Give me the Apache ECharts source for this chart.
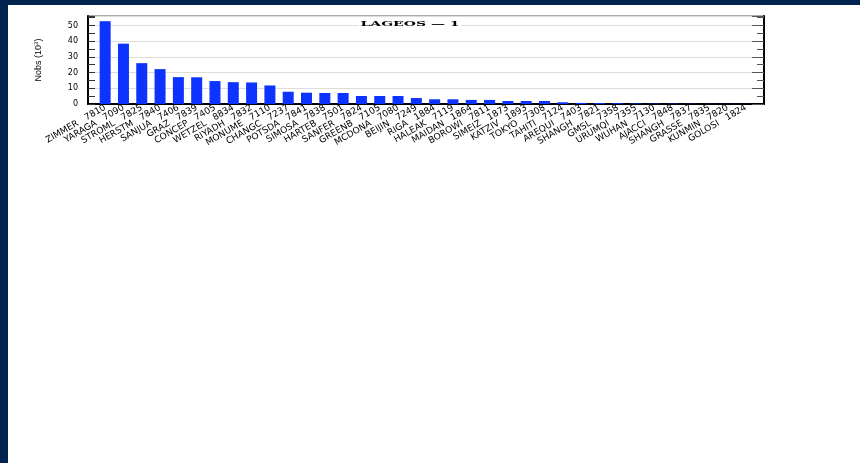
<!DOCTYPE html>
<html>
<head>
<meta charset="utf-8">
<script src="https://cdn.jsdelivr.net/npm/echarts@6/dist/echarts.min.js"></script>
<style>
  html, body { margin: 0; padding: 0; }
  body { width: 860px; height: 463px; background: #01234f; position: relative; overflow: hidden; }
  #panel { position: absolute; left: 8px; top: 5px; right: 0; bottom: 0; background: #fff; }
  #main { position: absolute; left: 0; top: 0; width: 860px; height: 463px; }
</style>
</head>
<body>
<div id="panel"></div>
<div id="main"></div>
<script>
  // stations, sorted by number of normal points
  var stationNames = ['ZIMMER', 'YARAGA', 'STROML', 'HERSTM', 'SANJUA', 'GRAZ', 'CONCEP', 'WETZEL', 'RIYADH',
    'MONUME', 'CHANGC', 'POTSDA', 'SIMOSA', 'HARTEB', 'SANFER', 'GREENB', 'MCDONA', 'BEIJIN', 'RIGA',
    'HALEAK', 'MAIDAN', 'BOROWI', 'SIMEIZ', 'KATZIV', 'TOKYO', 'TAHITI', 'AREQUI', 'SHANGH', 'GMSL',
    'URUMQI', 'WUHAN', 'AJACCI', 'SHANGH', 'GRASSE', 'KUNMIN', 'GOLOSI']
  var stationIds = ['7810', '7090', '7825', '7840', '7406', '7839', '7405', '8834', '7832',
    '7110', '7237', '7841', '7838', '7501', '7824', '7105', '7080', '7249', '1884',
    '7119', '1864', '7811', '1873', '1893', '7308', '7124', '7403', '7821', '7358',
    '7355', '7130', '7848', '7837', '7835', '7820', '1824']
  // Nobs in thousands
  var nobs = [52.7, 38.4, 26.0, 22.2, 17.1, 17.0, 14.6, 13.9, 13.7,
    11.8, 7.8, 7.2, 7.0, 7.0, 5.1, 5.1, 5.1, 3.8, 3.0,
    3.0, 2.6, 2.6, 1.9, 1.9, 1.9, 1.1, 0.7, 0.6, 0.5,
    0.35, 0.25, 0.2, 0.15, 0.1, 0.08, 0.05]

  var yMax = 56
  var categories = stationNames.map(function (n, i) {
    return n + '   ' + stationIds[i]
  })

  var chart = echarts.init(document.getElementById('main'))
  var option = {
    animation: false,
    backgroundColor: 'transparent',
    grid: [{
      // frame
      left: 88, right: 96, top: 16, bottom: 359,
      show: true, borderColor: '#555', borderWidth: 1
    }, {
      // bars
      left: 96, right: 105, top: 16, bottom: 359
    }],
    xAxis: [{
      gridIndex: 0,
      type: 'value', min: 0, max: 1,
      axisLine: { show: true, onZero: false, lineStyle: { color: '#000', width: 2 } },
      axisTick: { show: false },
      axisLabel: { show: false },
      splitLine: { show: false }
    }, {
      gridIndex: 1,
      type: 'category',
      data: categories,
      axisLine: { show: false },
      axisTick: { show: false },
      axisLabel: {
        interval: 0,
        rotate: 30,
        margin: 3,
        fontFamily: 'DejaVu Sans',
        fontSize: 9,
        color: '#000'
      }
    }],
    yAxis: [{
      gridIndex: 0,
      type: 'value', min: 0, max: yMax, interval: 10,
      name: 'Nobs (10{s|3})',
      nameLocation: 'middle',
      nameGap: 44,
      nameRotate: 90,
      nameTextStyle: {
        fontFamily: 'Liberation Sans', fontSize: 9, color: '#000',
        rich: { s: { fontFamily: 'Liberation Sans', fontSize: 6, color: '#000', padding: [0, 0, 5, 0] } }
      },
      axisLine: { show: true, lineStyle: { color: '#000', width: 2 } },
      axisTick: { show: true, inside: true, length: 7, lineStyle: { color: '#333' } },
      minorTick: { show: true, splitNumber: 2, length: 7, lineStyle: { color: '#333' } },
      axisLabel: {
        margin: 10, showMaxLabel: false,
        fontFamily: 'DejaVu Sans', fontSize: 8, color: '#000'
      },
      splitLine: { show: true, lineStyle: { color: '#ddd', width: 1 } }
    }, {
      gridIndex: 0,
      type: 'value', min: 0, max: yMax, interval: 10,
      position: 'right',
      axisLine: { show: true, lineStyle: { color: '#000', width: 2 } },
      axisTick: { show: true, inside: true, length: 12, lineStyle: { color: '#555' } },
      minorTick: { show: true, splitNumber: 2, length: 7, lineStyle: { color: '#555' } },
      axisLabel: { show: false },
      splitLine: { show: false }
    }, {
      gridIndex: 1,
      type: 'value', min: 0, max: yMax,
      show: false
    }],
    graphic: [{
      type: 'text',
      x: 410, y: 24,
      z: 100,
      scaleX: 1.75,
      style: {
        text: 'LAGEOS — 1',
        x: 0, y: 0,
        textAlign: 'center',
        textVerticalAlign: 'middle',
        fontFamily: 'DejaVu Serif',
        fontWeight: 'bold',
        fontSize: 8,
        fill: '#000',
        backgroundColor: '#fff',
        padding: [1, 1]
      }
    }],
    series: [{
      type: 'bar',
      xAxisIndex: 1,
      yAxisIndex: 2,
      data: nobs,
      barWidth: 11,
      itemStyle: { color: '#0d33ff' }
    }]
  }
  chart.setOption(option)
</script>
</body>
</html>
